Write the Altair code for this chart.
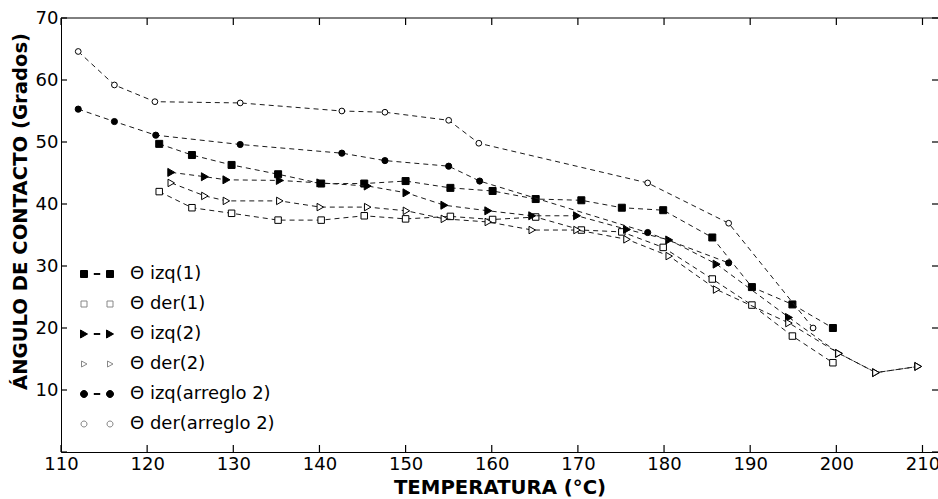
import altair as alt
import pandas as pd

# Temperatura (°C) y ángulo de contacto (grados) de cada serie
temp_izq1 = [121.4, 125.2, 129.8, 135.2, 140.2, 145.2, 150.0, 155.2, 160.1, 165.1,
             170.4, 175.1, 179.9, 185.6, 190.2, 194.9, 199.6]
ang_izq1 = [49.7, 47.9, 46.3, 44.8, 43.3, 43.3, 43.7, 42.6, 42.1, 40.8,
            40.6, 39.4, 39.0, 34.6, 26.6, 23.8, 20.0]

temp_der1 = [121.4, 125.2, 129.8, 135.2, 140.2, 145.2, 150.0, 155.2, 160.1, 165.1,
             170.4, 175.1, 179.9, 185.6, 190.2, 194.9, 199.6]
ang_der1 = [42.0, 39.4, 38.5, 37.4, 37.4, 38.1, 37.6, 38.0, 37.5, 37.9,
            35.8, 35.5, 33.0, 27.9, 23.7, 18.7, 14.4]

temp_izq2 = [122.8, 126.7, 129.2, 135.4, 140.1, 145.6, 150.1, 154.5, 159.6, 164.7,
             169.9, 175.7, 180.6, 186.1, 194.5, 200.3, 204.6, 209.5]
ang_izq2 = [45.1, 44.4, 43.9, 43.8, 43.4, 42.9, 41.8, 39.8, 38.9, 38.1,
            38.1, 35.9, 34.2, 30.3, 21.7, 15.9, 12.8, 13.8]

temp_der2 = [122.8, 126.7, 129.2, 135.4, 140.1, 145.6, 150.1, 154.5, 159.6, 164.7,
             169.9, 175.7, 180.6, 186.1, 194.5, 200.3, 204.6, 209.5]
ang_der2 = [43.4, 41.3, 40.5, 40.5, 39.5, 39.5, 38.9, 37.6, 37.1, 35.8,
            35.8, 34.3, 31.6, 26.2, 20.8, 15.9, 12.8, 13.8]

temp_izq_a2 = [112.0, 116.2, 121.0, 130.8, 142.6, 147.6, 155.0, 158.6, 178.1, 187.5]
ang_izq_a2 = [55.3, 53.3, 51.1, 49.6, 48.2, 47.0, 46.1, 43.7, 35.4, 30.5]

temp_der_a2 = [112.0, 116.2, 120.9, 130.8, 142.6, 147.6, 155.0, 158.5, 178.1, 187.5, 197.3]
ang_der_a2 = [64.6, 59.2, 56.5, 56.3, 55.0, 54.8, 53.5, 49.8, 43.4, 36.9, 20.0]

series_names = ["Θ izq(1)", "Θ der(1)", "Θ izq(2)", "Θ der(2)",
                "Θ izq(arreglo 2)", "Θ der(arreglo 2)"]
series_temp = [temp_izq1, temp_der1, temp_izq2, temp_der2, temp_izq_a2, temp_der_a2]
series_ang = [ang_izq1, ang_der1, ang_izq2, ang_der2, ang_izq_a2, ang_der_a2]

x_ticks = [110, 120, 130, 140, 150, 160, 170, 180, 190, 200, 210]
y_ticks = [0, 10, 20, 30, 40, 50, 60, 70]
y_labels = [10, 20, 30, 40, 50, 60, 70]

# marker style per series: (shape, size, filled)
marker_styles = [("square", 49, True), ("square", 42, False),
                 ("triangle-right", 64, True), ("triangle-right", 56, False),
                 ("circle", 38, True), ("circle", 33, False)]

# legend glyphs: two markers joined by a short dash (filled) or alone (hollow)
DASH = "M-3,-0.4h6v0.8h-6z"
legend_paths = [
    "M-16.5,-3.5h7v7h-7zM9.5,-3.5h7v7h-7z" + DASH,
    "M-16,-3h6v6h-6zM10,-3h6v6h-6z",
    "M-16.5,-4L-9.5,0L-16.5,4zM9.5,-4L16.5,0L9.5,4z" + DASH,
    "M-15.5,-3L-10,0L-15.5,3zM10.5,-3L16,0L10.5,3z",
    "M-9.5,0A3.5,3.5,0,1,1,-16.5,0A3.5,3.5,0,1,1,-9.5,0z"
    "M16.5,0A3.5,3.5,0,1,1,9.5,0A3.5,3.5,0,1,1,16.5,0z" + DASH,
    "M-10,0A3,3,0,1,1,-16,0A3,3,0,1,1,-10,0zM16,0A3,3,0,1,1,10,0A3,3,0,1,1,16,0z",
]
legend_fills = ["black", "white", "black", "white", "black", "white"]
legend_strokes = ["black", "#888888", "black", "#888888", "black", "#888888"]

W, H = 877, 434
FONT = "DejaVu Sans"

rows = []
for name, ts, angs in zip(series_names, series_temp, series_ang):
    for t, a in zip(ts, angs):
        rows.append({"serie": name, "temp": t, "angulo": a})
df = pd.DataFrame(rows)

xscale = alt.Scale(domain=[110, 211.8], nice=False, zero=False)
yscale = alt.Scale(domain=[0, 70], nice=False, zero=False)

xaxis = alt.Axis(values=x_ticks, ticks=False, tickSize=0, grid=False,
                 domainColor="black", domainWidth=1,
                 labelFont=FONT, labelFontSize=18, labelColor="black",
                 labelPadding=3, labelFlush=False, labelOverlap=False,
                 title="TEMPERATURA (°C)", titleFont=FONT, titleFontSize=19.7,
                 titleFontWeight="bold", titleColor="black",
                 titleX=W / 2, titleY=41, titleAlign="center",
                 titleBaseline="alphabetic")
yaxis = alt.Axis(values=y_labels, ticks=False, tickSize=0, grid=False,
                 domainColor="black", domainWidth=1,
                 labelFont=FONT, labelFontSize=18, labelColor="black",
                 labelPadding=3, labelFlush=False, labelOverlap=False,
                 title="ÁNGULO DE CONTACTO (Grados)", titleFont=FONT,
                 titleFontSize=19.6, titleFontWeight="bold", titleColor="black",
                 titleX=-35, titleY=193, titleAngle=270, titleAlign="center",
                 titleBaseline="alphabetic")


def xenc():
    return alt.X("temp:Q", scale=xscale, axis=xaxis)


def yenc():
    return alt.Y("angulo:Q", scale=yscale, axis=yaxis)


layers = []

# frame: top border and inward tick marks on all four sides
layers.append(alt.Chart(pd.DataFrame({"k": [0]})).mark_rule(color="black", strokeWidth=1)
              .encode(x=alt.value(0), x2=alt.value(W), y=alt.value(0)))
xt = pd.DataFrame({"temp": x_ticks})
yt = pd.DataFrame({"angulo": y_ticks})
layers.append(alt.Chart(xt).mark_rule(color="black", strokeWidth=1.2)
              .encode(x=xenc(), y=alt.value(H), y2=alt.value(H - 7)))
layers.append(alt.Chart(xt).mark_rule(color="black", strokeWidth=1.2)
              .encode(x=xenc(), y=alt.value(0), y2=alt.value(7)))
layers.append(alt.Chart(yt).mark_rule(color="black", strokeWidth=1.2)
              .encode(y=yenc(), x=alt.value(0), x2=alt.value(6)))
layers.append(alt.Chart(yt).mark_rule(color="black", strokeWidth=1.2)
              .encode(y=yenc(), x=alt.value(W), x2=alt.value(W - 6)))

# data series: dashed line, then markers on top
for name, (shape, size, filled) in zip(series_names, marker_styles):
    base = alt.Chart(df).transform_filter(alt.datum.serie == name)
    layers.append(base.mark_line(color="#1a1a1a", strokeWidth=1, strokeDash=[5, 4])
                  .encode(x=xenc(), y=yenc()))
    layers.append(base.mark_point(shape=shape, size=size, filled=True,
                                  fill="black" if filled else "white",
                                  stroke="black", strokeWidth=1, opacity=1)
                  .encode(x=xenc(), y=yenc()))

# legend (drawn from the scales only; no marks of its own)
leg = alt.Legend(orient="none", legendX=27, legendY=247, title=None,
                 labelFont=FONT, labelFontSize=18, labelColor="black",
                 labelLimit=400, labelOffset=24, symbolSize=4,
                 symbolStrokeWidth=1, symbolOffset=0, rowPadding=12, padding=0)
legend_layer = (alt.Chart(pd.DataFrame({"serie": series_names}))
                .transform_filter("false")
                .mark_point(filled=True, opacity=1)
                .encode(shape=alt.Shape("serie:N", scale=alt.Scale(domain=series_names, range=legend_paths), legend=leg),
                        fill=alt.Fill("serie:N", scale=alt.Scale(domain=series_names, range=legend_fills), legend=leg),
                        stroke=alt.Stroke("serie:N", scale=alt.Scale(domain=series_names, range=legend_strokes), legend=leg)))
layers.append(legend_layer)

chart = (alt.layer(*layers)
         .properties(width=W, height=H, background="white",
                     padding={"left": 61, "top": 18, "right": 0, "bottom": 46},
                     autosize=alt.AutoSizeParams(type="none"))
         .configure_view(stroke=None))

chart.save("out.html", embed_options={"renderer": "svg", "actions": False})
